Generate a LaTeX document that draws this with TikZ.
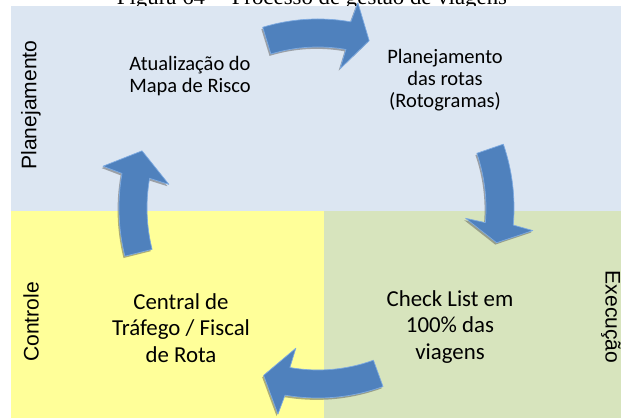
\documentclass[tikz,border=0pt]{standalone}
\usepackage{fontspec}
\setmainfont{Carlito}
\newfontfamily\sidefont{Liberation Sans}
\newfontfamily\capfont{Liberation Serif}
\usetikzlibrary{calc,shadows}

\definecolor{planblue}{RGB}{220,230,242}
\definecolor{ctrlyellow}{RGB}{255,255,153}
\definecolor{execgreen}{RGB}{215,228,189}
\definecolor{arrowblue}{RGB}{79,129,189}
\definecolor{arrowedge}{RGB}{125,170,225}

\tikzset{
	steptext/.style={align=center, text=black, font=\fontsize{17.5}{18.8}\selectfont},
	bigsteptext/.style={align=center, text=black, font=\fontsize{19.5}{22.6}\selectfont},
	sidetext/.style={font=\sidefont\fontsize{18}{20}\selectfont},
	looparrow/.style={fill=arrowblue, draw=arrowedge, line width=0.6pt, line join=round,
		drop shadow={shadow xshift=-1.2pt, shadow yshift=-1.6pt, opacity=0.45, fill=black!70}},
}

% #1 radius, #2 tail angle, #3 head base angle, #4 tip angle
\newcommand{\cyclearrow}[4]{%
	\path[looparrow] ($(ctr)+(#2:{#1+14})$) arc[start angle=#2, end angle=#3, radius={#1+14}]
		-- ($(ctr)+({#3-1}:{#1+34})$) -- ($(ctr)+(#4:#1)$) -- ($(ctr)+({#3+1}:{#1-34})$)
		-- ($(ctr)+(#3:{#1-14})$) arc[start angle=#3, end angle=#2, radius={#1-14}] -- cycle;
}

\begin{document}
\begin{tikzpicture}[x=0.3mm, y=0.3mm]
	\useasboundingbox (0,0) rectangle (621,418);

	% caption, cut by the top edge
	\node[anchor=base, font=\capfont\fontsize{19.5}{21}\selectfont] (caption) at (312,413) {Figura 64 -- Processo de gestão de viagens};

	% quadrants
	\fill[planblue] (11,207) rectangle (621,412);
	\fill[ctrlyellow] (11,0) rectangle (324,207);
	\fill[execgreen] (324,0) rectangle (621,207);

	\node[sidetext, rotate=90] (planside) at (31,313) {Planejamento};
	\node[sidetext, rotate=90] (ctrlside) at (31,96) {Controle};
	\node[sidetext, rotate=-90] (execside) at (611,101) {Execução};

	\node[steptext] (risk) at (190,342) {Atualização do\\Mapa de Risco};
	\node[steptext] (route) at (445,338) {Planejamento\\das rotas\\(Rotogramas)};
	\node[bigsteptext] (check) at (450,91) {Check List em\\100\% das\\viagens};
	\node[bigsteptext] (traffic) at (181,90) {Central de\\Tráfego / Fiscal\\de Rota};

	% the cycle
	\coordinate (ctr) at (318,210);
	\cyclearrow{175}{107}{80}{73}
	\cyclearrow{182}{19}{-5}{-11}
	\cyclearrow{176}{-70}{-100}{-108}
	\cyclearrow{185}{194}{170}{162}
\end{tikzpicture}
\end{document}
